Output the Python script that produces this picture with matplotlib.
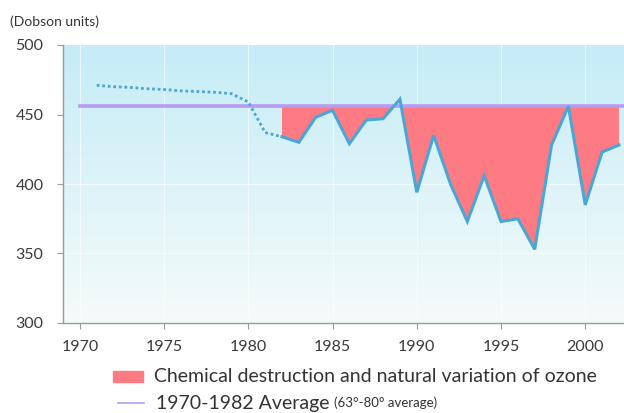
import numpy as np
import matplotlib
matplotlib.use("Agg")
import matplotlib.pyplot as plt
from matplotlib.patches import Rectangle
from matplotlib.lines import Line2D

plt.rcParams['font.family'] = ['Lato', 'DejaVu Sans']

# pre-1982 reconstructed values (dotted)
early_years = [1971, 1972, 1973, 1974, 1975, 1976, 1977, 1978, 1979, 1980, 1981, 1982]
early_vals = [471, 470, 469.5, 468.5, 468, 467, 466.5, 466, 465, 459, 437, 434]

# measured values
years = [1982, 1983, 1984, 1985, 1986, 1987, 1988, 1989, 1990, 1991, 1992,
         1993, 1994, 1995, 1996, 1997, 1998, 1999, 2000, 2001, 2002]
vals = [434, 430, 448, 453, 429, 446, 447, 461, 394, 435, 400,
        373, 406, 373, 375, 353, 428, 456, 385, 423, 428]

avg_value = 456
avg_span = [1970, 2002.3]

xticks = [1970, 1975, 1980, 1985, 1990, 1995, 2000]
yticks = [300, 350, 400, 450, 500]

fig = plt.figure(figsize=(6.24, 4.13), dpi=100)
ax = fig.add_axes([63/624, 1 - 323/413, 1 - 63/624, (323 - 45)/413])
ax.set_xlim(1969, 2002.3)
ax.set_ylim(300, 500)

# background gradient
top = np.array([0xc5, 0xec, 0xf7]) / 255
bot = np.array([0xf5, 0xfb, 0xfa]) / 255
t = np.linspace(0, 1, 256)[:, None]
grad = (top * (1 - t) + bot * t)[:, None, :]
ax.imshow(grad, extent=[1969, 2002.3, 300, 500], aspect='auto', zorder=0)

for x in xticks:
    ax.axvline(x, color='white', lw=0.8, alpha=0.6, zorder=1)
for y in [350, 400]:
    ax.axhline(y, color='white', lw=0.8, alpha=0.6, zorder=1)

pink = '#ff7b84'
blue = '#4aa6d6'
purple = '#b79cf0'

yr = np.array(years)
v = np.array(vals)
ax.fill_between(yr, v, avg_value, where=v <= avg_value, interpolate=True,
                color=pink, lw=0, zorder=2)
ax.plot(avg_span, [avg_value, avg_value], color=purple, lw=2.6, zorder=3)
ax.plot(yr, v, color=blue, lw=2.2, zorder=4, solid_joinstyle='miter')
ax.plot(early_years, early_vals, color=blue, lw=2, ls=(0, (1, 1)), zorder=4)

for s in ['top', 'right']:
    ax.spines[s].set_visible(False)
for s in ['left', 'bottom']:
    ax.spines[s].set_color('#9a9a9a')
    ax.spines[s].set_linewidth(1)
ax.set_xticks(xticks)
ax.set_yticks(yticks)
ax.tick_params(axis='both', colors='#9a9a9a', labelcolor='#3a3a3a',
               labelsize=11.5, length=4, direction='out')
ax.tick_params(axis='x', pad=8)
ax.tick_params(axis='y', pad=10)

fig.text(10/624, 1 - 22/413, '(Dobson units)', fontsize=10, color='#333333',
         va='center', ha='left')

# legend
fig.patches.append(Rectangle((113/624, 1 - 382/413), 30/624, 11/413,
                             transform=fig.transFigure, color=pink))
fig.lines.append(Line2D([118/624, 144/624], [1 - 403/413, 1 - 403/413],
                        transform=fig.transFigure, color=purple, lw=1.2))
fig.text(154/624, 1 - 377/413, 'Chemical destruction and natural variation of ozone',
         fontsize=14, color='#333333', va='center', ha='left')
t2 = fig.text(156/624, 1 - 403/413, '1970-1982 Average', fontsize=14,
              color='#333333', va='center', ha='left')
fig.canvas.draw()
bb = t2.get_window_extent()
fig.text((bb.x1 + 5)/624, 1 - 403/413, '(63°-80° average)', fontsize=9.5,
         color='#333333', va='center', ha='left')

fig.savefig('out.png', dpi=100)
